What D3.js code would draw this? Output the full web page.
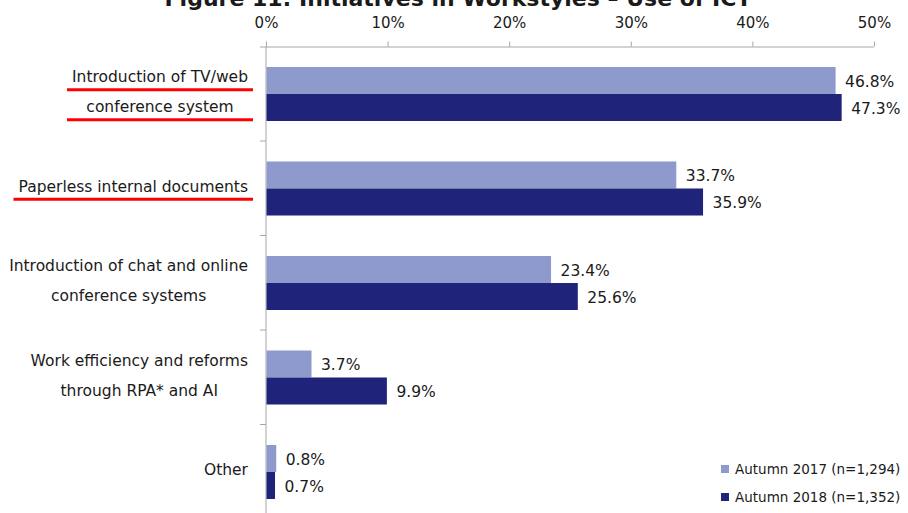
<!DOCTYPE html>
<html>
<head>
<meta charset="utf-8">
<script src="https://cdn.jsdelivr.net/npm/d3@7"></script>
<style>
  html, body { margin: 0; padding: 0; background: #fff; }
  svg { display: block; }
  text { font-family: "DejaVu Sans", Verdana, sans-serif; fill: #1a1a1a; }
</style>
</head>
<body>
<svg id="chart" width="908" height="513"></svg>
<script>
// Survey categories (label lines) and whether the label is highlighted
const categories = [
  ["Introduction of TV/web", "conference system"],
  ["Paperless internal documents"],
  ["Introduction of chat and online", "conference systems"],
  ["Work efficiency and reforms", "through RPA* and AI"],
  ["Other"]
];
const highlighted = [true, true, false, false, false];

const seriesNames = ["Autumn 2017 (n=1,294)", "Autumn 2018 (n=1,352)"];
const autumn2017 = [46.8, 33.7, 23.4, 3.7, 0.8];
const autumn2018 = [47.3, 35.9, 25.6, 9.9, 0.7];
const xTicks = [0, 10, 20, 30, 40, 50];

const title = "Figure 11: Initiatives in Workstyles \u2013 Use of ICT";
const colors = ["#8e99cc", "#1f237a"];

const svg = d3.select("#chart");
const W = 908, H = 513;

const x = d3.scaleLinear().domain([0, 50]).range([266, 874]);
const catIdx = categories.map((_, i) => i);
const y = d3.scaleBand().domain(catIdx).range([46.5, 519]);
const ySub = d3.scaleBand().domain([0, 1]).range([20.5, 74.5]);

// Title (runs off the top edge of the page)
svg.append("text")
  .attr("x", 458).attr("y", 6)
  .attr("text-anchor", "middle")
  .style("font-weight", "bold")
  .style("font-size", "22px")
  .text(title);

// Top value axis
const xAxis = d3.axisTop(x).tickValues(xTicks).tickFormat(d => d + "%").tickSize(5).tickPadding(14);
const gx = svg.append("g").attr("transform", `translate(0,${y.range()[0]})`).call(xAxis);
gx.select(".domain").attr("d", `M260,0.5H${x(50)}`).attr("stroke", "#a6a6a6");
gx.selectAll(".tick line").attr("stroke", "#a6a6a6");
gx.selectAll(".tick text").style("font-size", "15px").attr("fill", "#1a1a1a")
  .style("font-family", "'DejaVu Sans', sans-serif");

// Left category axis line with boundary ticks
svg.append("line").attr("x1", x(0)).attr("x2", x(0))
  .attr("y1", y.range()[0]).attr("y2", H + 10)
  .attr("stroke", "#a6a6a6");
svg.selectAll(".cat-tick").data(catIdx.slice(1)).join("line")
  .attr("class", "cat-tick")
  .attr("x1", x(0) - 6).attr("x2", x(0))
  .attr("y1", d => y(d)).attr("y2", d => y(d))
  .attr("stroke", "#a6a6a6");

// Bars
const rows = catIdx.map(i => ({ i, vals: [autumn2017[i], autumn2018[i]] }));
const groups = svg.selectAll(".grp").data(rows).join("g")
  .attr("class", "grp")
  .attr("transform", d => `translate(0,${y(d.i)})`);

groups.selectAll("rect").data(d => d.vals.map((v, s) => ({ v, s }))).join("rect")
  .attr("x", x(0) + 0.5)
  .attr("y", d => ySub(d.s))
  .attr("width", d => x(d.v) - x(0))
  .attr("height", ySub.bandwidth())
  .attr("fill", d => colors[d.s]);

groups.selectAll("text.val").data(d => d.vals.map((v, s) => ({ v, s }))).join("text")
  .attr("class", "val")
  .attr("x", d => x(d.v) + 10)
  .attr("y", d => ySub(d.s) + ySub.bandwidth() / 2 + 1)
  .attr("dy", "0.35em")
  .style("font-size", "15.5px")
  .text(d => d.v.toFixed(1) + "%");

// Category labels: lines centred on each other, block right-aligned
const labelRight = 248;
const lineGap = 30;
categories.forEach((lines, i) => {
  const cy = y(i) + y.bandwidth() / 2 - 2;
  const g = svg.append("g");
  const texts = lines.map((t, k) => g.append("text")
    .attr("y", cy + (k - (lines.length - 1) / 2) * lineGap)
    .attr("dy", "0.35em")
    .style("font-size", "15.5px")
    .text(t));
  const widths = texts.map(t => t.node().getComputedTextLength());
  const maxW = d3.max(widths);
  const cx = labelRight - maxW / 2;
  texts.forEach(t => t.attr("x", cx).attr("text-anchor", "middle"));
  if (highlighted[i]) {
    const left = labelRight - maxW;
    texts.forEach((t, k) => {
      const ly = cy + (k - (lines.length - 1) / 2) * lineGap + 13;
      g.append("line")
        .attr("x1", left - 5).attr("x2", labelRight + 5)
        .attr("y1", ly).attr("y2", ly)
        .attr("stroke", "#ff0000").attr("stroke-width", 3);
    });
  }
});

// Legend
const legend = svg.selectAll(".leg").data(seriesNames).join("g")
  .attr("class", "leg")
  .attr("transform", (d, i) => `translate(721,${469 + i * 28})`);
legend.append("rect").attr("x", 0).attr("y", -4).attr("width", 8).attr("height", 8)
  .attr("fill", (d, i) => colors[i]);
legend.append("text").attr("x", 14).attr("y", 0).attr("dy", "0.35em")
  .style("font-size", "13.5px").attr("fill", "#333")
  .text(d => d);
</script>
</body>
</html>
